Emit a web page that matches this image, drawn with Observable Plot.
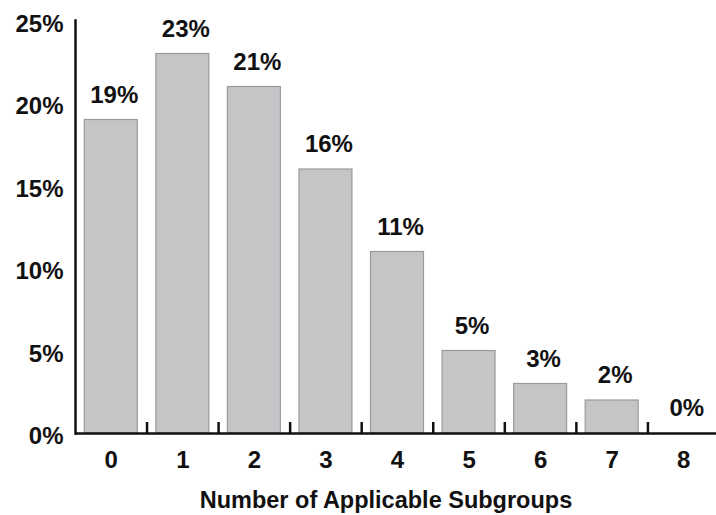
<!DOCTYPE html>
<html>
<head>
<meta charset="utf-8">
<script src="https://cdn.jsdelivr.net/npm/d3@7"></script>
<script src="https://cdn.jsdelivr.net/npm/@observablehq/plot@0.6"></script>
<style>
  html, body { margin: 0; padding: 0; background: #fff; }
  #chart svg { display: block; }
</style>
</head>
<body>
<div id="chart"></div>
<script>
const categories = ["0", "1", "2", "3", "4", "5", "6", "7", "8"];
const percents = [19, 23, 21, 16, 11, 5, 3, 2, 0];
const yTicks = [0, 5, 10, 15, 20, 25];
const xTitle = "Number of Applicable Subgroups";

const data = categories.map((c, i) => ({cat: c, pct: percents[i]}));
const font = "'Liberation Sans', Arial, sans-serif";

const chart = Plot.plot({
  width: 716,
  height: 515,
  marginLeft: 75,
  marginRight: 0,
  marginTop: 20,
  marginBottom: 82,
  style: {fontFamily: font, fontSize: "24px", fontWeight: "bold", color: "#111", background: "#fff"},
  x: {domain: categories, range: [75, 719], paddingInner: 0.26, paddingOuter: 0.13, align: 0.5, round: false},
  y: {domain: [0, 25], range: [433, 20.5]},
  marks: [
    Plot.barY(data, {x: "cat", y: "pct", fill: "#c5c5c8", stroke: "#999a9c", strokeWidth: 1.2}),
    Plot.text(data, {x: "cat", y: "pct", text: d => d.pct + "%", dy: -25, dx: 3, fontSize: 24, fontWeight: "bold", fill: "#111"}),
    Plot.axisY({ticks: yTicks, tickSize: 0, tickPadding: 12, tickFormat: d => d + "%", label: null, fontSize: 24, dy: 3}),
    Plot.axisX({tickSize: 0, tickPadding: 16, label: null, fontSize: 24, dy: 1}),
    Plot.axisX({ticks: categories.slice(1), tickFormat: null, tickSize: -11, dx: -35.8, strokeWidth: 2.5, stroke: "#111", label: null}),
    Plot.ruleY([0], {stroke: "#111", strokeWidth: 2.5}),
    Plot.frame({anchor: "left", stroke: "#111", strokeWidth: 2.5})
  ]
});

document.getElementById("chart").append(chart);

const svg = d3.select(chart);
svg.append("text")
  .attr("x", 386)
  .attr("y", 502)
  .attr("text-anchor", "middle")
  .attr("dominant-baseline", "middle")
  .style("font-family", font)
  .style("font-size", "23.5px")
  .style("font-weight", "bold")
  .attr("fill", "#111")
  .text(xTitle);
</script>
</body>
</html>
